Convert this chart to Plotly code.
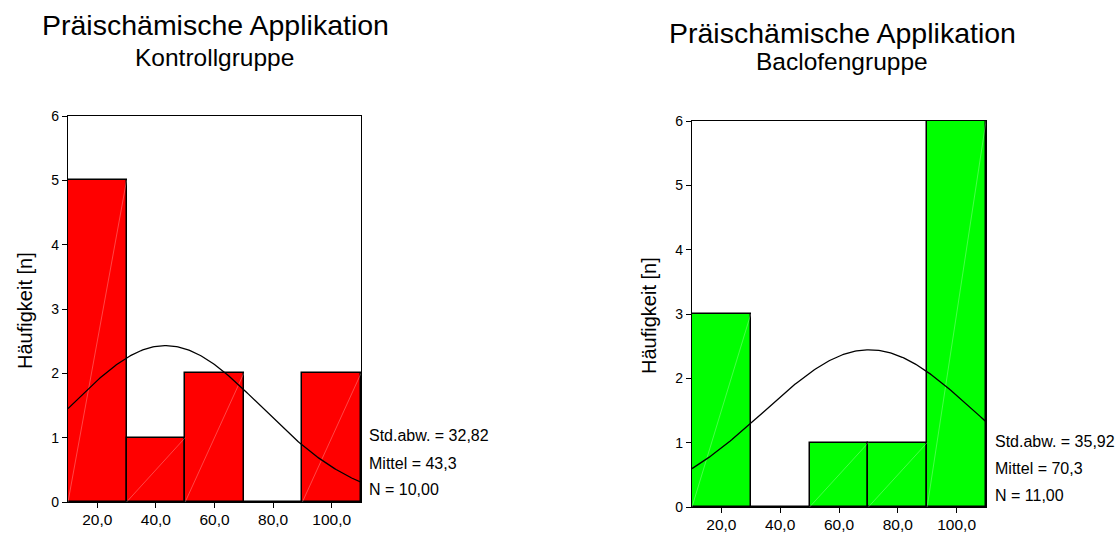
import numpy as np
import plotly.graph_objects as go

# ---- data ----
bin_centers = [20, 40, 60, 80, 100]
bin_width = 20
tick_vals = [20, 40, 60, 80, 100]
tick_text = ["20,0", "40,0", "60,0", "80,0", "100,0"]

kontroll_counts = [5, 1, 2, 0, 2]
kontroll_sd = 32.82
kontroll_mean = 43.3
kontroll_n = 10

baclofen_counts = [3, 0, 1, 1, 6]
baclofen_sd = 35.92
baclofen_mean = 70.3
baclofen_n = 11

main_title = "Präischämische Applikation"
sub_titles = ["Kontrollgruppe", "Baclofengruppe"]
y_title = "Häufigkeit [n]"

FONT = "Liberation Sans, Arial, sans-serif"
W, H = 1117, 533


def normal_curve(mean, sd, n):
    xs = np.linspace(10, 110, 201)
    ys = n * bin_width * np.exp(-0.5 * ((xs - mean) / sd) ** 2) / (sd * np.sqrt(2 * np.pi))
    return xs, ys


def fmt(v, d):
    return f"{v:.{d}f}".replace(".", ",")


fig = go.Figure()

panels = [
    dict(counts=kontroll_counts, sd=kontroll_sd, mean=kontroll_mean, n=kontroll_n,
         color="#FF0000", xa="x", ya="y", px=(68, 361), py=(116, 502)),
    dict(counts=baclofen_counts, sd=baclofen_sd, mean=baclofen_mean, n=baclofen_n,
         color="#00FF00", xa="x2", ya="y2", px=(692, 986), py=(121, 507)),
]

for i, p in enumerate(panels):
    fig.add_trace(go.Bar(
        x=bin_centers, y=p["counts"], width=bin_width,
        marker=dict(color=p["color"], line=dict(color="black", width=1.5)),
        xaxis=p["xa"], yaxis=p["ya"], showlegend=False, hoverinfo="x+y",
    ))
    # faint diagonal lines inside bars
    for c, cnt in zip(bin_centers, p["counts"]):
        if cnt > 0:
            fig.add_trace(go.Scatter(
                x=[c - bin_width / 2, c + bin_width / 2], y=[0, cnt], mode="lines",
                line=dict(color="rgba(255,255,255,0.35)", width=0.8),
                xaxis=p["xa"], yaxis=p["ya"], showlegend=False, hoverinfo="skip",
            ))
    xs, ys = normal_curve(p["mean"], p["sd"], p["n"])
    fig.add_trace(go.Scatter(
        x=xs, y=ys, mode="lines", line=dict(color="black", width=1.3),
        xaxis=p["xa"], yaxis=p["ya"], showlegend=False, hoverinfo="skip",
    ))

axis_common = dict(
    showgrid=False, zeroline=False, showline=True, linecolor="black", linewidth=1.3,
    mirror=True, ticks="outside", ticklen=5, tickwidth=1, tickcolor="black",
    automargin=False,
)

for i, p in enumerate(panels):
    sfx = "" if i == 0 else "2"
    xdom = [p["px"][0] / W, p["px"][1] / W]
    ydom = [1 - p["py"][1] / H, 1 - p["py"][0] / H]
    fig.layout["xaxis" + sfx] = dict(
        domain=xdom, range=[10, 110], tickvals=tick_vals, ticktext=tick_text,
        anchor="y" + sfx, ticklabelstandoff=-2,
        tickfont=dict(family=FONT, size=15.5, color="black"), **axis_common)
    fig.layout["yaxis" + sfx] = dict(
        domain=ydom, range=[0, 6], dtick=1, tick0=0, anchor="x" + sfx,
        tickfont=dict(family=FONT, size=14, color="black"), **axis_common)

annotations = []
title_pos = [(215, 25), (842, 33)]
sub_pos = [(214, 57), (842, 62)]
ytitle_pos = [(25, 311), (649, 316)]
stats_x = [367, 993]
stats_y = [(435, 463, 490), (441, 468, 495)]

for i, p in enumerate(panels):
    annotations.append(dict(text=main_title, x=title_pos[i][0] / W, y=1 - title_pos[i][1] / H,
                            xref="paper", yref="paper", showarrow=False,
                            xanchor="center", yanchor="middle",
                            font=dict(family=FONT, size=28.5, color="black")))
    annotations.append(dict(text=sub_titles[i], x=sub_pos[i][0] / W, y=1 - sub_pos[i][1] / H,
                            xref="paper", yref="paper", showarrow=False,
                            xanchor="center", yanchor="middle",
                            font=dict(family=FONT, size=24.5, color="black")))
    annotations.append(dict(text=y_title, x=ytitle_pos[i][0] / W, y=1 - ytitle_pos[i][1] / H,
                            xref="paper", yref="paper", showarrow=False, textangle=-90,
                            xanchor="center", yanchor="middle",
                            font=dict(family=FONT, size=20, color="black")))
    lines = [f"Std.abw. = {fmt(p['sd'], 2)}", f"Mittel = {fmt(p['mean'], 1)}",
             f"N = {fmt(p['n'], 2)}"]
    for txt, yy in zip(lines, stats_y[i]):
        annotations.append(dict(text=txt, x=stats_x[i] / W, y=1 - yy / H,
                                xref="paper", yref="paper", showarrow=False,
                                xanchor="left", yanchor="middle",
                                font=dict(family=FONT, size=16, color="black")))

fig.update_layout(
    width=W, height=H, margin=dict(l=0, r=0, t=0, b=0, pad=0, autoexpand=False),
    paper_bgcolor="white", plot_bgcolor="white",
    annotations=annotations, bargap=0, barmode="overlay",
    font=dict(family=FONT, color="black"),
)

fig.write_html(
    "out.html",
    config={"displayModeBar": False},
    post_script="document.body.style.margin='0';document.body.style.overflow='hidden';",
)
